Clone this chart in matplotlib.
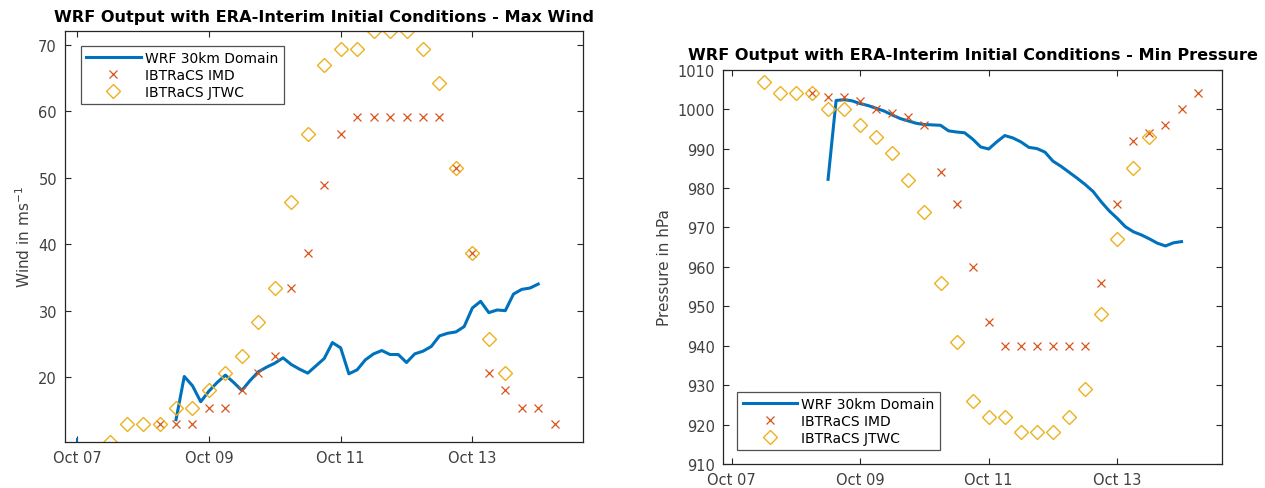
import numpy as np
import pandas as pd
import matplotlib
matplotlib.use("Agg")
import matplotlib.pyplot as plt
import matplotlib.dates as mdates

# observation times (6-hourly best track) and WRF output times (3-hourly)
jtwc_time = pd.date_range("2013-10-07 12:00", periods=25, freq="6h")
imd_time = pd.date_range("2013-10-08 06:00", periods=25, freq="6h")
wrf_time = pd.date_range("2013-10-08 12:00", periods=45, freq="3h")
wrf_first_time = pd.Timestamp("2013-10-07 00:00")

# maximum wind (m/s)
jtwc_wind = [10.3, 12.9, 12.9, 12.9, 15.4, 15.4, 18.0, 20.6, 23.2, 28.3,
             33.4, 46.3, 56.6, 66.9, 69.4, 69.4, 72.0, 72.0, 72.0, 69.4,
             64.3, 51.4, 38.6, 25.7, 20.6]
imd_wind = [12.9, 12.9, 12.9, 15.4, 15.4, 18.0, 20.6, 23.2, 33.4, 38.6,
            48.9, 56.6, 59.2, 59.2, 59.2, 59.2, 59.2, 59.2, 51.4, 38.6,
            20.6, 18.0, 15.4, 15.4, 12.9]
wrf_wind = [13.6, 20.1, 18.7, 16.3, 17.9, 19.2, 20.3, 19.2, 18.0, 19.5,
            20.8, 21.5, 22.1, 22.9, 21.9, 21.2, 20.6, 21.7, 22.8, 25.2,
            24.4, 20.5, 21.1, 22.6, 23.5, 24.0, 23.4, 23.4, 22.2, 23.5,
            23.9, 24.6, 26.2, 26.6, 26.8, 27.6, 30.4, 31.4, 29.7, 30.1,
            30.0, 32.5, 33.2, 33.4, 34.0]
wrf_first_wind = 10.3

# minimum central pressure (hPa)
jtwc_pres = [1007, 1004, 1004, 1004, 1000, 1000, 996, 993, 989, 982,
             974, 956, 941, 926, 922, 922, 918, 918, 918, 922,
             929, 948, 967, 985, 993]
imd_pres = [1004, 1003, 1003, 1002, 1000, 999, 998, 996, 984, 976,
            960, 946, 940, 940, 940, 940, 940, 940, 956, 976,
            992, 994, 996, 1000, 1004]
wrf_pres = [982.2, 1002.2, 1002.4, 1002.1, 1001.4, 1000.9, 1000.2, 999.5, 998.5, 997.6,
            997.0, 996.4, 996.1, 996.0, 995.9, 994.5, 994.2, 994.0, 992.4, 990.4,
            989.9, 991.7, 993.3, 992.7, 991.7, 990.3, 990.0, 989.1, 986.8, 985.5,
            984.0, 982.5, 980.9, 979.1, 976.5, 974.2, 972.3, 970.2, 968.9, 968.1,
            967.1, 966.0, 965.3, 966.1, 966.4]

blue = "#0072BD"
red = "#D95319"
yellow = "#EDB120"
axis_grey = "#262626"
tick_grey = "#404040"

plt.rcParams["font.family"] = "DejaVu Sans"

fig = plt.figure(figsize=(12.65, 4.89), dpi=100)
ax1 = fig.add_axes([0.0516, 0.0947, 0.4093, 0.8393])
ax2 = fig.add_axes([0.5718, 0.0491, 0.3942, 0.8063])


def draw(ax, wrf, imd, jtwc):
    ax.plot(wrf_time, wrf, color=blue, lw=2.2, label="WRF 30km Domain")
    ax.plot(imd_time, imd, ls="none", marker="x", ms=6, mew=0.9,
            color=red, label="IBTRaCS IMD")
    ax.plot(jtwc_time, jtwc, ls="none", marker="D", ms=7, mew=1.0,
            mfc="none", color=yellow, label="IBTRaCS JTWC")


def style(ax, title, ylabel, xlim, pad):
    ax.set_title(title, fontsize=11.6, fontweight="bold", pad=pad)
    ax.set_ylabel(ylabel, fontsize=11, color=tick_grey)
    ax.set_xlim(pd.Timestamp(xlim[0]), pd.Timestamp(xlim[1]))
    ax.xaxis.set_major_locator(mdates.DayLocator(bymonthday=[7, 9, 11, 13]))
    ax.xaxis.set_major_formatter(mdates.DateFormatter("%b %d"))
    ax.tick_params(direction="in", top=True, right=True, length=4,
                   width=0.8, colors=axis_grey, labelcolor=tick_grey,
                   labelsize=10.5, pad=6)
    for sp in ax.spines.values():
        sp.set_color(axis_grey)
        sp.set_linewidth(0.9)


def legend(ax, loc, anchor):
    leg = ax.legend(loc=loc, bbox_to_anchor=anchor, fontsize=10,
                    handlelength=3.9, handletextpad=0.3, borderpad=0.4,
                    labelspacing=0.2, fancybox=False, edgecolor=axis_grey,
                    borderaxespad=0)
    leg.get_frame().set_linewidth(0.9)


draw(ax1, wrf_wind, imd_wind, jtwc_wind)
ax1.plot([wrf_first_time], [wrf_first_wind], marker="|", ms=6, mew=1.5,
         color=blue)
ax1.set_ylim(10.29, 72.02)
ax1.set_yticks(np.arange(20, 71, 10))
style(ax1, "WRF Output with ERA-Interim Initial Conditions - Max Wind",
      "Wind in ms$^{-1}$", ("2013-10-06 19:38", "2013-10-14 16:20"), 7.5)
legend(ax1, "upper left", (0.03, 0.965))

draw(ax2, wrf_pres, imd_pres, jtwc_pres)
ax2.set_ylim(910, 1010)
ax2.set_yticks(np.arange(910, 1011, 10))
style(ax2, "WRF Output with ERA-Interim Initial Conditions - Min Pressure",
      "Pressure in hPa", ("2013-10-06 20:53", "2013-10-14 15:07"), 7.5)
legend(ax2, "lower left", (0.028, 0.035))

fig.savefig("out.png", dpi=100)
